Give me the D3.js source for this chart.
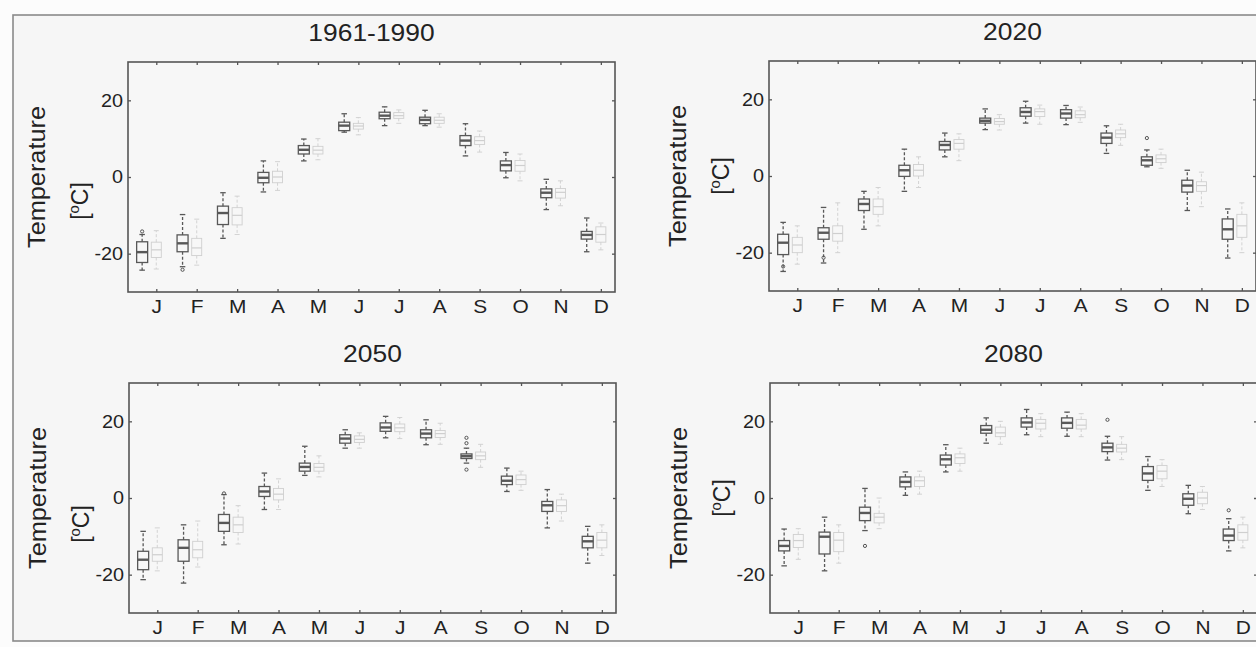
<!DOCTYPE html>
<html>
<head>
<meta charset="utf-8">
<script src="https://cdn.jsdelivr.net/npm/d3@7"></script>
<style>
  html, body { margin: 0; padding: 0; background: #fcfcfc; }
  svg { display: block; }
  text { font-family: "Liberation Sans", Arial, sans-serif; fill: #222; }
</style>
</head>
<body>
<svg id="chart" width="1256" height="647"></svg>
<script>
// Month labels and panel titles
const months = ["J", "F", "M", "A", "M", "J", "J", "A", "S", "O", "N", "D"];
const panelTitles = ["1961-1990", "2020", "2050", "2080"];
const yTicks = [-20, 0, 20];

// Box statistics per month: [lower whisker, Q1, median, Q3, upper whisker]
// Dark boxes (main series)
const dark1961 = [
  [-24.3, -22.3, -19.6, -16.9, -15.0], [-23.4, -19.5, -17.3, -15.1, -9.8],
  [-16.0, -12.4, -9.4, -7.6, -4.1],    [-3.9, -1.5, -0.2, 1.2, 4.2],
  [4.2, 6.0, 7.1, 8.2, 9.9],           [11.7, 12.1, 13.4, 14.3, 16.5],
  [13.4, 15.2, 16.0, 16.9, 18.3],      [13.4, 13.9, 14.9, 15.6, 17.4],
  [5.5, 8.2, 9.5, 10.8, 13.9],         [-0.2, 1.6, 3.1, 4.2, 6.4],
  [-8.5, -5.4, -4.1, -3.1, -0.6],      [-19.5, -16.2, -15.1, -14.2, -10.7]
];
const dark2020 = [
  [-24.9, -20.5, -17.4, -15.2, -12.1], [-22.7, -16.5, -14.8, -13.5, -8.2],
  [-13.9, -9.0, -7.3, -6.0, -4.0],     [-4.0, -0.1, 1.5, 2.8, 7.0],
  [5.0, 6.8, 8.1, 9.0, 11.2],          [12.1, 13.8, 14.4, 15.1, 17.5],
  [13.8, 15.6, 16.7, 17.8, 19.5],      [13.4, 15.1, 16.3, 17.3, 18.4],
  [5.9, 8.5, 10.0, 11.2, 13.1],        [2.4, 2.8, 4.1, 5.0, 6.8],
  [-9.0, -4.2, -2.5, -1.1, 1.5],       [-21.4, -16.5, -13.9, -11.2, -8.6]
];
const dark2050 = [
  [-21.3, -18.7, -16.1, -13.9, -8.7],  [-22.2, -16.5, -13.0, -10.9, -7.0],
  [-12.2, -8.7, -6.5, -4.3, 0.9],      [-3.0, 0.4, 1.7, 3.0, 6.5],
  [5.9, 7.0, 8.1, 9.1, 13.5],          [13.0, 14.3, 15.5, 16.5, 17.8],
  [15.7, 17.4, 18.4, 19.6, 21.3],      [13.9, 15.7, 16.8, 17.8, 20.4],
  [9.1, 10.3, 10.9, 11.5, 13.0],       [1.7, 3.5, 4.5, 5.7, 7.8],
  [-7.8, -3.5, -1.9, -0.9, 2.2],       [-17.0, -13.0, -11.3, -10.0, -7.4]
];
const dark2080 = [
  [-17.7, -13.8, -12.5, -11.1, -8.1],  [-19.0, -14.6, -10.1, -8.9, -5.0],
  [-8.5, -5.9, -3.9, -2.4, 2.5],       [0.7, 2.9, 4.2, 5.5, 6.8],
  [6.8, 8.6, 10.1, 11.2, 13.9],        [14.3, 16.9, 17.8, 18.9, 20.9],
  [16.5, 18.5, 19.7, 20.9, 23.1],      [16.1, 18.2, 19.6, 20.9, 22.4],
  [9.9, 12.1, 13.2, 14.3, 16.1],       [2.0, 4.6, 6.4, 8.2, 10.8],
  [-4.1, -1.9, -0.2, 1.1, 3.3],        [-13.8, -11.1, -9.8, -8.1, -5.4]
];

// Light boxes (comparison series)
const light1961 = [
  [-24.0, -21.0, -19.0, -17.0, -14.0], [-23.0, -20.5, -18.5, -16.0, -11.0],
  [-15.0, -12.5, -10.0, -8.0, -5.0],   [-3.5, -1.5, 0.0, 1.5, 4.0],
  [4.5, 6.0, 7.0, 8.0, 10.0],          [11.0, 12.5, 13.3, 14.0, 15.5],
  [14.0, 15.3, 16.0, 16.8, 17.5],      [13.0, 14.0, 14.8, 15.6, 16.5],
  [6.5, 8.5, 9.5, 10.5, 12.0],         [-1.0, 1.5, 3.0, 4.3, 6.0],
  [-7.5, -5.5, -4.0, -3.0, -1.0],      [-19.0, -17.0, -15.0, -13.0, -12.0]
];
const light2020 = [
  [-23.0, -20.0, -18.0, -16.0, -13.0], [-20.0, -17.0, -15.0, -13.0, -7.0],
  [-13.0, -10.0, -8.0, -6.0, -3.0],    [-3.0, 0.0, 1.5, 3.0, 5.0],
  [4.0, 7.0, 8.5, 9.5, 11.0],          [12.0, 13.5, 14.2, 15.0, 16.0],
  [13.5, 15.5, 16.8, 17.5, 18.5],      [14.0, 15.2, 16.0, 17.0, 18.0],
  [8.0, 10.0, 11.0, 12.0, 13.5],       [2.0, 3.5, 4.5, 5.5, 7.0],
  [-8.0, -4.0, -2.5, -1.5, 1.0],       [-20.0, -16.0, -13.0, -10.0, -7.0]
];
const light2050 = [
  [-19.0, -16.5, -14.8, -13.0, -7.8],  [-18.0, -15.6, -13.5, -11.3, -6.0],
  [-12.0, -9.0, -7.0, -5.0, -2.0],     [-3.0, -0.5, 1.0, 2.5, 5.0],
  [5.5, 7.0, 8.0, 9.0, 11.0],          [13.0, 14.5, 15.3, 16.2, 17.0],
  [15.5, 17.3, 18.3, 19.3, 21.0],      [14.0, 15.8, 16.8, 17.6, 19.5],
  [8.0, 10.0, 11.0, 12.0, 14.0],       [2.0, 3.5, 4.8, 6.0, 7.0],
  [-6.0, -3.5, -2.0, -0.5, 1.0],       [-15.0, -13.0, -11.0, -9.0, -7.0]
];
const light2080 = [
  [-16.0, -12.9, -11.1, -9.5, -8.0],   [-17.0, -14.0, -11.0, -9.0, -7.0],
  [-8.0, -6.5, -5.0, -4.0, 0.0],       [1.0, 3.0, 4.5, 5.5, 7.0],
  [7.0, 9.0, 10.5, 11.5, 13.0],        [14.0, 16.0, 17.0, 18.5, 20.0],
  [16.0, 18.0, 19.5, 20.5, 22.0],      [16.0, 18.0, 19.0, 20.5, 22.0],
  [10.0, 12.0, 13.0, 14.0, 16.0],      [3.0, 5.0, 7.0, 8.5, 10.0],
  [-3.0, -1.5, 0.0, 1.5, 3.0],         [-13.0, -11.0, -9.0, -7.0, -5.0]
];

// Outlying points of the dark series: [month index (1-12), value]
const out1961 = [[1, -14.2], [2, -24.2]];
const out2020 = [[1, -23.6], [2, -21.3], [10, 9.9]];
const out2050 = [[9, 15.7], [9, 14.3], [9, 7.4], [3, 1.2]];
const out2080 = [[3, -12.5], [9, 20.4], [12, -3.2]];

const panels = [
  { title: panelTitles[0], dark: dark1961, light: light1961, out: out1961,
    x0: 128, y0: 62, unitOffset: 24 },
  { title: panelTitles[1], dark: dark2020, light: light2020, out: out2020,
    x0: 769, y0: 61, unitOffset: 0 },
  { title: panelTitles[2], dark: dark2050, light: light2050, out: out2050,
    x0: 129, y0: 383, unitOffset: 26 },
  { title: panelTitles[3], dark: dark2080, light: light2080, out: out2080,
    x0: 770, y0: 383, unitOffset: 0 }
];

const W = 487, H = 230;
const svg = d3.select("#chart");

// Outer figure frame
svg.append("rect")
  .attr("x", 13).attr("y", 15).attr("width", 1260).attr("height", 626)
  .attr("fill", "#f6f6f6").attr("stroke", "#8a8a8a").attr("stroke-width", 1.6);

// Stretch text a little wider than the stock font metrics
function widen(sel, k) {
  sel.each(function () {
    const L = this.getComputedTextLength();
    this.setAttribute("textLength", L * k);
    this.setAttribute("lengthAdjust", "spacingAndGlyphs");
  });
}

const x = d3.scaleLinear().domain([0.3, 12.35]).range([0, W]);
const y = d3.scaleLinear().domain([-30, 30]).range([H, 0]);

function drawBox(g, pos, s, style) {
  const [lo, q1, med, q3, hi] = s;
  const cx = x(pos);
  const hb = style.half;
  const bg = g.append("g");
  // whiskers
  bg.append("line").attr("x1", cx).attr("x2", cx).attr("y1", y(q3)).attr("y2", y(hi))
    .attr("stroke", style.color).attr("stroke-width", style.lw).attr("stroke-dasharray", "3,2");
  bg.append("line").attr("x1", cx).attr("x2", cx).attr("y1", y(q1)).attr("y2", y(lo))
    .attr("stroke", style.color).attr("stroke-width", style.lw).attr("stroke-dasharray", "3,2");
  // staples
  [lo, hi].forEach(v => {
    bg.append("line").attr("x1", cx - hb / 2).attr("x2", cx + hb / 2)
      .attr("y1", y(v)).attr("y2", y(v))
      .attr("stroke", style.color).attr("stroke-width", style.lw);
  });
  // box
  bg.append("rect").attr("x", cx - hb).attr("width", 2 * hb)
    .attr("y", y(q3)).attr("height", y(q1) - y(q3))
    .attr("fill", "none").attr("stroke", style.color).attr("stroke-width", style.lw);
  // median
  bg.append("line").attr("x1", cx - hb).attr("x2", cx + hb)
    .attr("y1", y(med)).attr("y2", y(med))
    .attr("stroke", style.color).attr("stroke-width", style.mw);
}

const darkStyle = { color: "#585858", lw: 1.3, mw: 2.4, half: 5.5 };
const lightStyle = { color: "#cfcfcf", lw: 0.9, mw: 1.2, half: 5 };

panels.forEach(p => {
  const g = svg.append("g").attr("transform", `translate(${p.x0},${p.y0})`);

  // plot area
  g.append("rect").attr("width", W).attr("height", H)
    .attr("fill", "#f7f7f7");

  // title
  const t = g.append("text").attr("x", W / 2).attr("y", -21)
    .attr("text-anchor", "middle").attr("font-size", 24).text(p.title);
  widen(t, 1.1);

  // y axis label
  const lab = g.append("g").attr("transform", `translate(${-83},${H / 2}) rotate(-90)`);
  const t1 = lab.append("text").attr("x", 0).attr("y", 0)
    .attr("text-anchor", "middle").attr("font-size", 23).text("Temperature");
  widen(t1, 1.1);
  const t2 = lab.append("text").attr("x", -p.unitOffset).attr("y", 43)
    .attr("text-anchor", "middle").attr("font-size", 23);
  t2.append("tspan").text("[");
  t2.append("tspan").attr("font-size", 15).attr("dy", -9).text("o");
  t2.append("tspan").attr("dy", 9).text("C]");

  // axes with inward ticks
  const ax = d3.axisBottom(x).tickValues(d3.range(1, 13))
    .tickFormat(i => months[i - 1]).tickSizeInner(-3).tickSizeOuter(0).tickPadding(8);
  const axB = g.append("g").attr("transform", `translate(0,${H})`).call(ax);
  const axT = g.append("g").call(d3.axisTop(x).tickValues(d3.range(1, 13))
    .tickFormat("").tickSizeInner(-3).tickSizeOuter(0));
  const axL = g.append("g").call(d3.axisLeft(y).tickValues(yTicks)
    .tickFormat(d => String(d)).tickSizeInner(-3).tickSizeOuter(0).tickPadding(5));
  const axR = g.append("g").attr("transform", `translate(${W},0)`)
    .call(d3.axisRight(y).tickValues(yTicks).tickFormat("").tickSizeInner(-3).tickSizeOuter(0));
  [axB, axT, axL, axR].forEach(a => {
    a.select(".domain").remove();
    a.selectAll("line").attr("stroke", "#555").attr("stroke-width", 1.3);
    a.selectAll("text").attr("font-family", "Liberation Sans, Arial, sans-serif")
      .attr("fill", "#333");
  });
  axB.selectAll("text").attr("font-size", 19).call(widen, 1.1);
  axL.selectAll("text").attr("font-size", 18).call(widen, 1.1);

  // frame
  g.append("rect").attr("width", W).attr("height", H)
    .attr("fill", "none").attr("stroke", "#555").attr("stroke-width", 1.6);

  // light boxes at the month position, dark boxes shifted left
  p.light.forEach((s, i) => drawBox(g, i + 1, s, lightStyle));
  p.dark.forEach((s, i) => drawBox(g, i + 1 - 0.35, s, darkStyle));

  // outliers
  g.selectAll("circle.out").data(p.out).join("circle")
    .attr("class", "out")
    .attr("cx", d => x(d[0] - 0.35)).attr("cy", d => y(d[1])).attr("r", 1.6)
    .attr("fill", "none").attr("stroke", "#555").attr("stroke-width", 1);
});
</script>
</body>
</html>
